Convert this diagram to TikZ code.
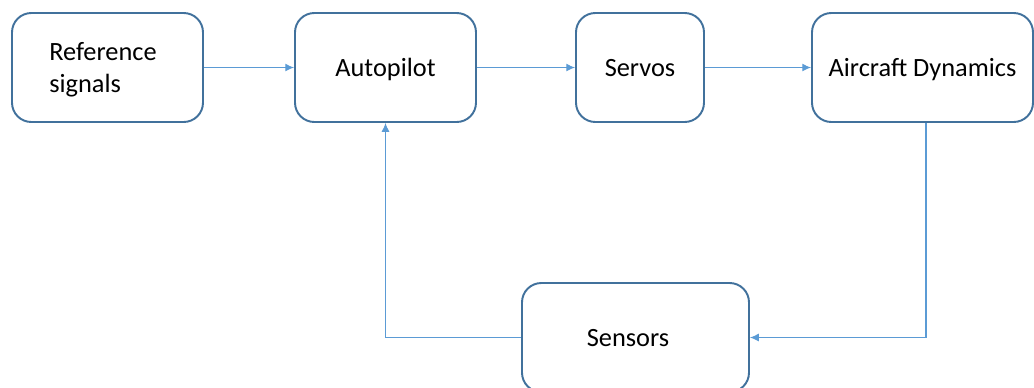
\documentclass[tikz,border=0pt]{standalone}
\usepackage{fontspec}
\setmainfont{Carlito}
\usetikzlibrary{arrows.meta}
\definecolor{boxline}{HTML}{41719C}
\definecolor{wire}{HTML}{5B9BD5}
\tikzset{
    block/.style={draw=boxline,line width=1.1pt,rounded corners=11pt,fill=white,
        minimum height=109*0.02cm,inner sep=0pt,text height=9.7pt,text depth=0pt,
        font=\fontsize{15}{18}\selectfont},
    wire/.style={draw=wire,line width=0.6pt,-{Latex[length=5pt,width=4.5pt]}}
}
\begin{document}
\begin{tikzpicture}[x=0.02cm,y=-0.02cm]
            \useasboundingbox (0,0) rectangle (1034,387);
            % forward path
            \node[block,minimum width=191*0.02cm] at (107.5,67.5)(ref){};
            \node[align=left,font=\fontsize{15}{18}\selectfont] at (103,70)(reftext){Reference\\signals};
            \node[block,minimum width=181*0.02cm] at (385.5,67.5)(auto){Autopilot};
            \node[block,minimum width=128*0.02cm] at (640,67.5)(servo){Servos};
            \node[block,minimum width=221*0.02cm] at (922.5,67.5)(plane){Aircraft Dynamics};
            % feedback path
            \node[block,minimum width=227*0.02cm] at (635.5,337.5)(sense){};
            \node[font=\fontsize{15}{18}\selectfont,text height=9.7pt,text depth=0pt] at (628,337.5)(sensetext){Sensors};
            \path[wire] (ref) -- (auto);
            \path[wire] (auto) -- (servo);
            \path[wire] (servo) -- (plane);
            \path[wire] ([xshift=3.5*0.02cm]plane.south) |- (sense.east);
            \path[wire] (sense.west) -| (auto.south);
        \end{tikzpicture}
\end{document}
